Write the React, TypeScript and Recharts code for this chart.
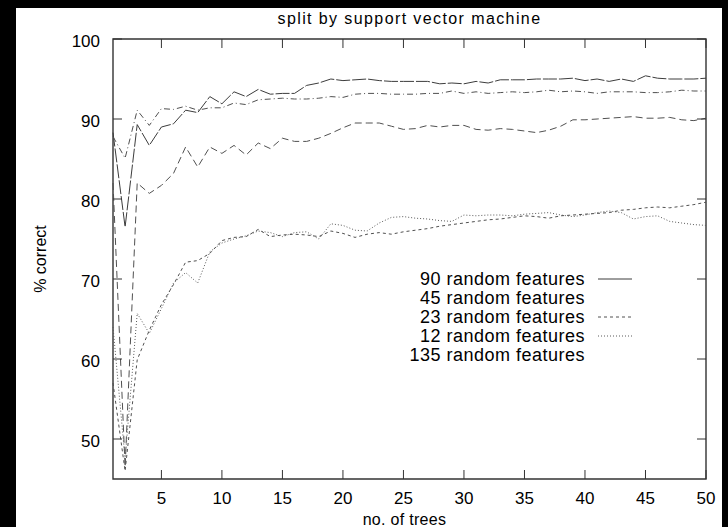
import React from 'react';
import { LineChart, Line, XAxis, YAxis, ReferenceArea, Legend, Label } from 'recharts';

// number of trees (x)
const trees = [
  1, 2, 3, 4, 5, 6, 7, 8, 9, 10, 11, 12, 13, 14, 15, 16, 17, 18, 19, 20, 21, 22, 23, 24, 25,
  26, 27, 28, 29, 30, 31, 32, 33, 34, 35, 36, 37, 38, 39, 40, 41, 42, 43, 44, 45, 46, 47, 48, 49, 50,
];

// % correct per feature count
const f90 = [
  88.3, 76.5, 89.3, 86.7, 89.0, 89.4, 91.1, 90.8, 92.8, 91.9, 93.4, 92.8, 93.7, 93.1, 93.2, 93.2, 94.2, 94.5, 95.0, 94.8,
  94.9, 95.0, 94.8, 94.7, 94.7, 94.7, 94.7, 94.4, 94.5, 94.4, 94.7, 94.5, 94.9, 94.9, 94.9, 95.0, 95.0, 95.0, 95.1, 94.8,
  95.0, 94.7, 95.0, 94.7, 95.4, 95.1, 95.0, 95.0, 95.0, 95.1,
];
const f135 = [
  87.8, 85.1, 91.1, 89.2, 91.3, 91.2, 91.6, 91.1, 91.4, 91.4, 92.0, 91.8, 92.4, 92.5, 92.6, 92.5, 92.5, 92.6, 92.8, 92.7,
  93.1, 93.2, 93.2, 93.1, 93.1, 93.1, 93.2, 93.2, 93.5, 93.2, 93.4, 93.2, 93.3, 93.4, 93.3, 93.4, 93.6, 93.4, 93.5, 93.4,
  93.2, 93.4, 93.4, 93.4, 93.3, 93.3, 93.4, 93.6, 93.5, 93.5,
];
const f45 = [
  82.0, 46.5, 82.0, 80.7, 81.7, 83.2, 86.5, 84.0, 86.5, 85.7, 86.7, 85.5, 87.0, 86.3, 87.6, 87.2, 87.2, 87.6, 88.2, 88.9,
  89.5, 89.5, 89.5, 89.1, 88.7, 88.8, 89.2, 89.0, 89.2, 89.2, 88.7, 88.6, 88.8, 88.7, 88.5, 88.3, 88.6, 89.1, 89.9, 89.9,
  90.0, 90.1, 90.2, 90.3, 90.1, 90.1, 90.2, 89.9, 89.8, 90.1,
];
const f23 = [
  57.0, 46.0, 59.9, 63.6, 66.8, 69.3, 72.1, 72.3, 73.2, 74.8, 75.2, 75.3, 76.2, 75.3, 75.5, 75.6, 75.5, 75.3, 76.0, 75.7,
  75.2, 75.6, 75.8, 75.6, 75.9, 76.1, 76.3, 76.6, 76.8, 77.0, 77.2, 77.4, 77.5, 77.7, 77.9, 77.8, 77.6, 77.9, 78.0, 78.1,
  78.2, 78.3, 78.6, 78.7, 78.9, 79.0, 78.9, 79.1, 79.3, 79.6,
];
const f12 = [
  64.0, 47.5, 65.7, 63.2, 66.3, 69.5, 70.8, 69.5, 73.4, 74.5, 75.0, 75.4, 76.0, 75.8, 75.3, 75.8, 75.9, 75.0, 76.9, 76.7,
  76.1, 76.0, 77.0, 77.7, 77.8, 77.6, 77.5, 77.3, 77.2, 78.0, 77.9, 78.0, 78.0, 77.9, 78.1, 78.2, 78.3, 78.0, 77.8, 78.0,
  78.3, 78.5, 78.3, 77.5, 77.8, 77.9, 77.2, 77.0, 76.8, 76.7,
];

const xTicks = [5, 10, 15, 20, 25, 30, 35, 40, 45, 50];
const yTicks = [50, 60, 70, 80, 90, 100];
const legendOrder = ['f90', 'f45', 'f23', 'f12', 'f135'];
const legendNames: Record<string, string> = {
  f90: '90 random features',
  f45: '45 random features',
  f23: '23 random features',
  f12: '12 random features',
  f135: '135 random features',
};

const data = trees.map((t, i) => ({
  trees: t,
  f90: f90[i],
  f45: f45[i],
  f23: f23[i],
  f12: f12[i],
  f135: f135[i],
}));

const FONT = '"Liberation Sans", Arial, Helvetica, sans-serif';
const W = 728;
const H = 527;
const PLOT_TOP = 39;
const PLOT_LEFT = 113;
const PLOT_RIGHT = 706;
const PLOT_BOTTOM = 479;
const TICK = 9;

// line look per series; legend only shows samples where the original had them
const styles: Record<string, { dash?: string; color: string; sample: boolean }> = {
  f90: { dash: '14 2', color: '#3c3c3c', sample: true },
  f45: { dash: '7 4', color: '#505050', sample: false },
  f23: { dash: '3 3', color: '#505050', sample: true },
  f12: { dash: '1 2', color: '#5a5a5a', sample: true },
  f135: { dash: '6 3 1 3', color: '#505050', sample: false },
};

const XTick = ({ x, payload }: any) => (
  <g>
    <line x1={x} x2={x} y1={PLOT_BOTTOM} y2={PLOT_BOTTOM - TICK} stroke="#333" />
    <line x1={x} x2={x} y1={PLOT_TOP} y2={PLOT_TOP + TICK} stroke="#333" />
    <text x={x} y={504} textAnchor="middle" fontFamily={FONT} fontSize={17} fill="#000">
      {payload.value}
    </text>
  </g>
);

const YTick = ({ y, payload }: any) => (
  <g>
    <line x1={PLOT_LEFT} x2={PLOT_LEFT + TICK} y1={y} y2={y} stroke="#333" />
    <line x1={PLOT_RIGHT} x2={PLOT_RIGHT - TICK} y1={y} y2={y} stroke="#333" />
    <text x={100} y={y + 8} textAnchor="end" fontFamily={FONT} fontSize={17} fill="#000">
      {payload.value}
    </text>
  </g>
);

const LegendBox = () => (
  <svg width={260} height={105}>
    {legendOrder.map((key, i) => {
      const base = 20 + i * 19;
      const s = styles[key];
      return (
        <g key={key}>
          <text
            x={205}
            y={base}
            textAnchor="end"
            fontFamily={FONT}
            fontSize={18}
            letterSpacing={0.5}
            fill="#000"
          >
            {legendNames[key]}
          </text>
          {s.sample && (
            <line
              x1={218}
              x2={252}
              y1={base - 6}
              y2={base - 6}
              stroke={s.color}
              strokeDasharray={key === 'f90' ? undefined : s.dash}
            />
          )}
        </g>
      );
    })}
  </svg>
);

export default function App() {
  return (
    <div style={{ position: 'absolute', left: 0, top: 0, width: W, height: H, background: '#000' }}>
      <div style={{ position: 'absolute', left: 16, top: 8, width: 706, height: 519, background: '#fff' }} />
      <div style={{ position: 'absolute', left: 0, top: 0 }}>
        <LineChart width={W} height={H} data={data} margin={{ top: PLOT_TOP, right: W - PLOT_RIGHT, bottom: 0, left: 16 }}>
          <XAxis
            dataKey="trees"
            type="number"
            domain={[1, 50]}
            ticks={xTicks}
            height={H - PLOT_BOTTOM}
            axisLine={false}
            tickLine={false}
            tickSize={0}
            tick={<XTick />}
          >
            <Label
              value="no. of trees"
              position="insideBottom"
              offset={2}
              dx={-5}
              style={{ fontFamily: FONT, fontSize: 16, fill: '#000', letterSpacing: 0.3 }}
            />
          </XAxis>
          <YAxis
            type="number"
            domain={[45, 100]}
            ticks={yTicks}
            width={PLOT_LEFT - 16}
            axisLine={false}
            tickLine={false}
            tickSize={0}
            tick={<YTick />}
          >
            <Label
              content={({ viewBox }: any) => {
                const cx = viewBox.x + 24;
                const cy = viewBox.y + viewBox.height / 2;
                return (
                  <text
                    x={cx}
                    y={cy}
                    transform={`rotate(-90, ${cx}, ${cy})`}
                    textAnchor="middle"
                    dominantBaseline="central"
                    fontFamily={FONT}
                    fontSize={16}
                    fill="#000"
                  >
                    % correct
                  </text>
                );
              }}
            />
          </YAxis>
          <ReferenceArea x1={1} x2={50} y1={45} y2={100} fill="none" stroke="#333" strokeWidth={1.4} />
          {legendOrder.map((key) => (
            <Line
              key={key}
              dataKey={key}
              type="linear"
              stroke={styles[key].color}
              strokeDasharray={styles[key].dash}
              strokeWidth={1}
              dot={false}
              isAnimationActive={false}
            />
          ))}
          <Legend
            layout="vertical"
            align="center"
            verticalAlign="middle"
            content={<LegendBox />}
            wrapperStyle={{ left: 380, top: 265, width: 260, height: 105 }}
          />
        </LineChart>
      </div>
      <div
        style={{
          position: 'absolute',
          left: 0,
          width: 819,
          top: 10,
          textAlign: 'center',
          fontFamily: FONT,
          fontSize: 16,
          letterSpacing: 1.4,
          color: '#000',
        }}
      >
        split by support vector machine
      </div>
    </div>
  );
}
